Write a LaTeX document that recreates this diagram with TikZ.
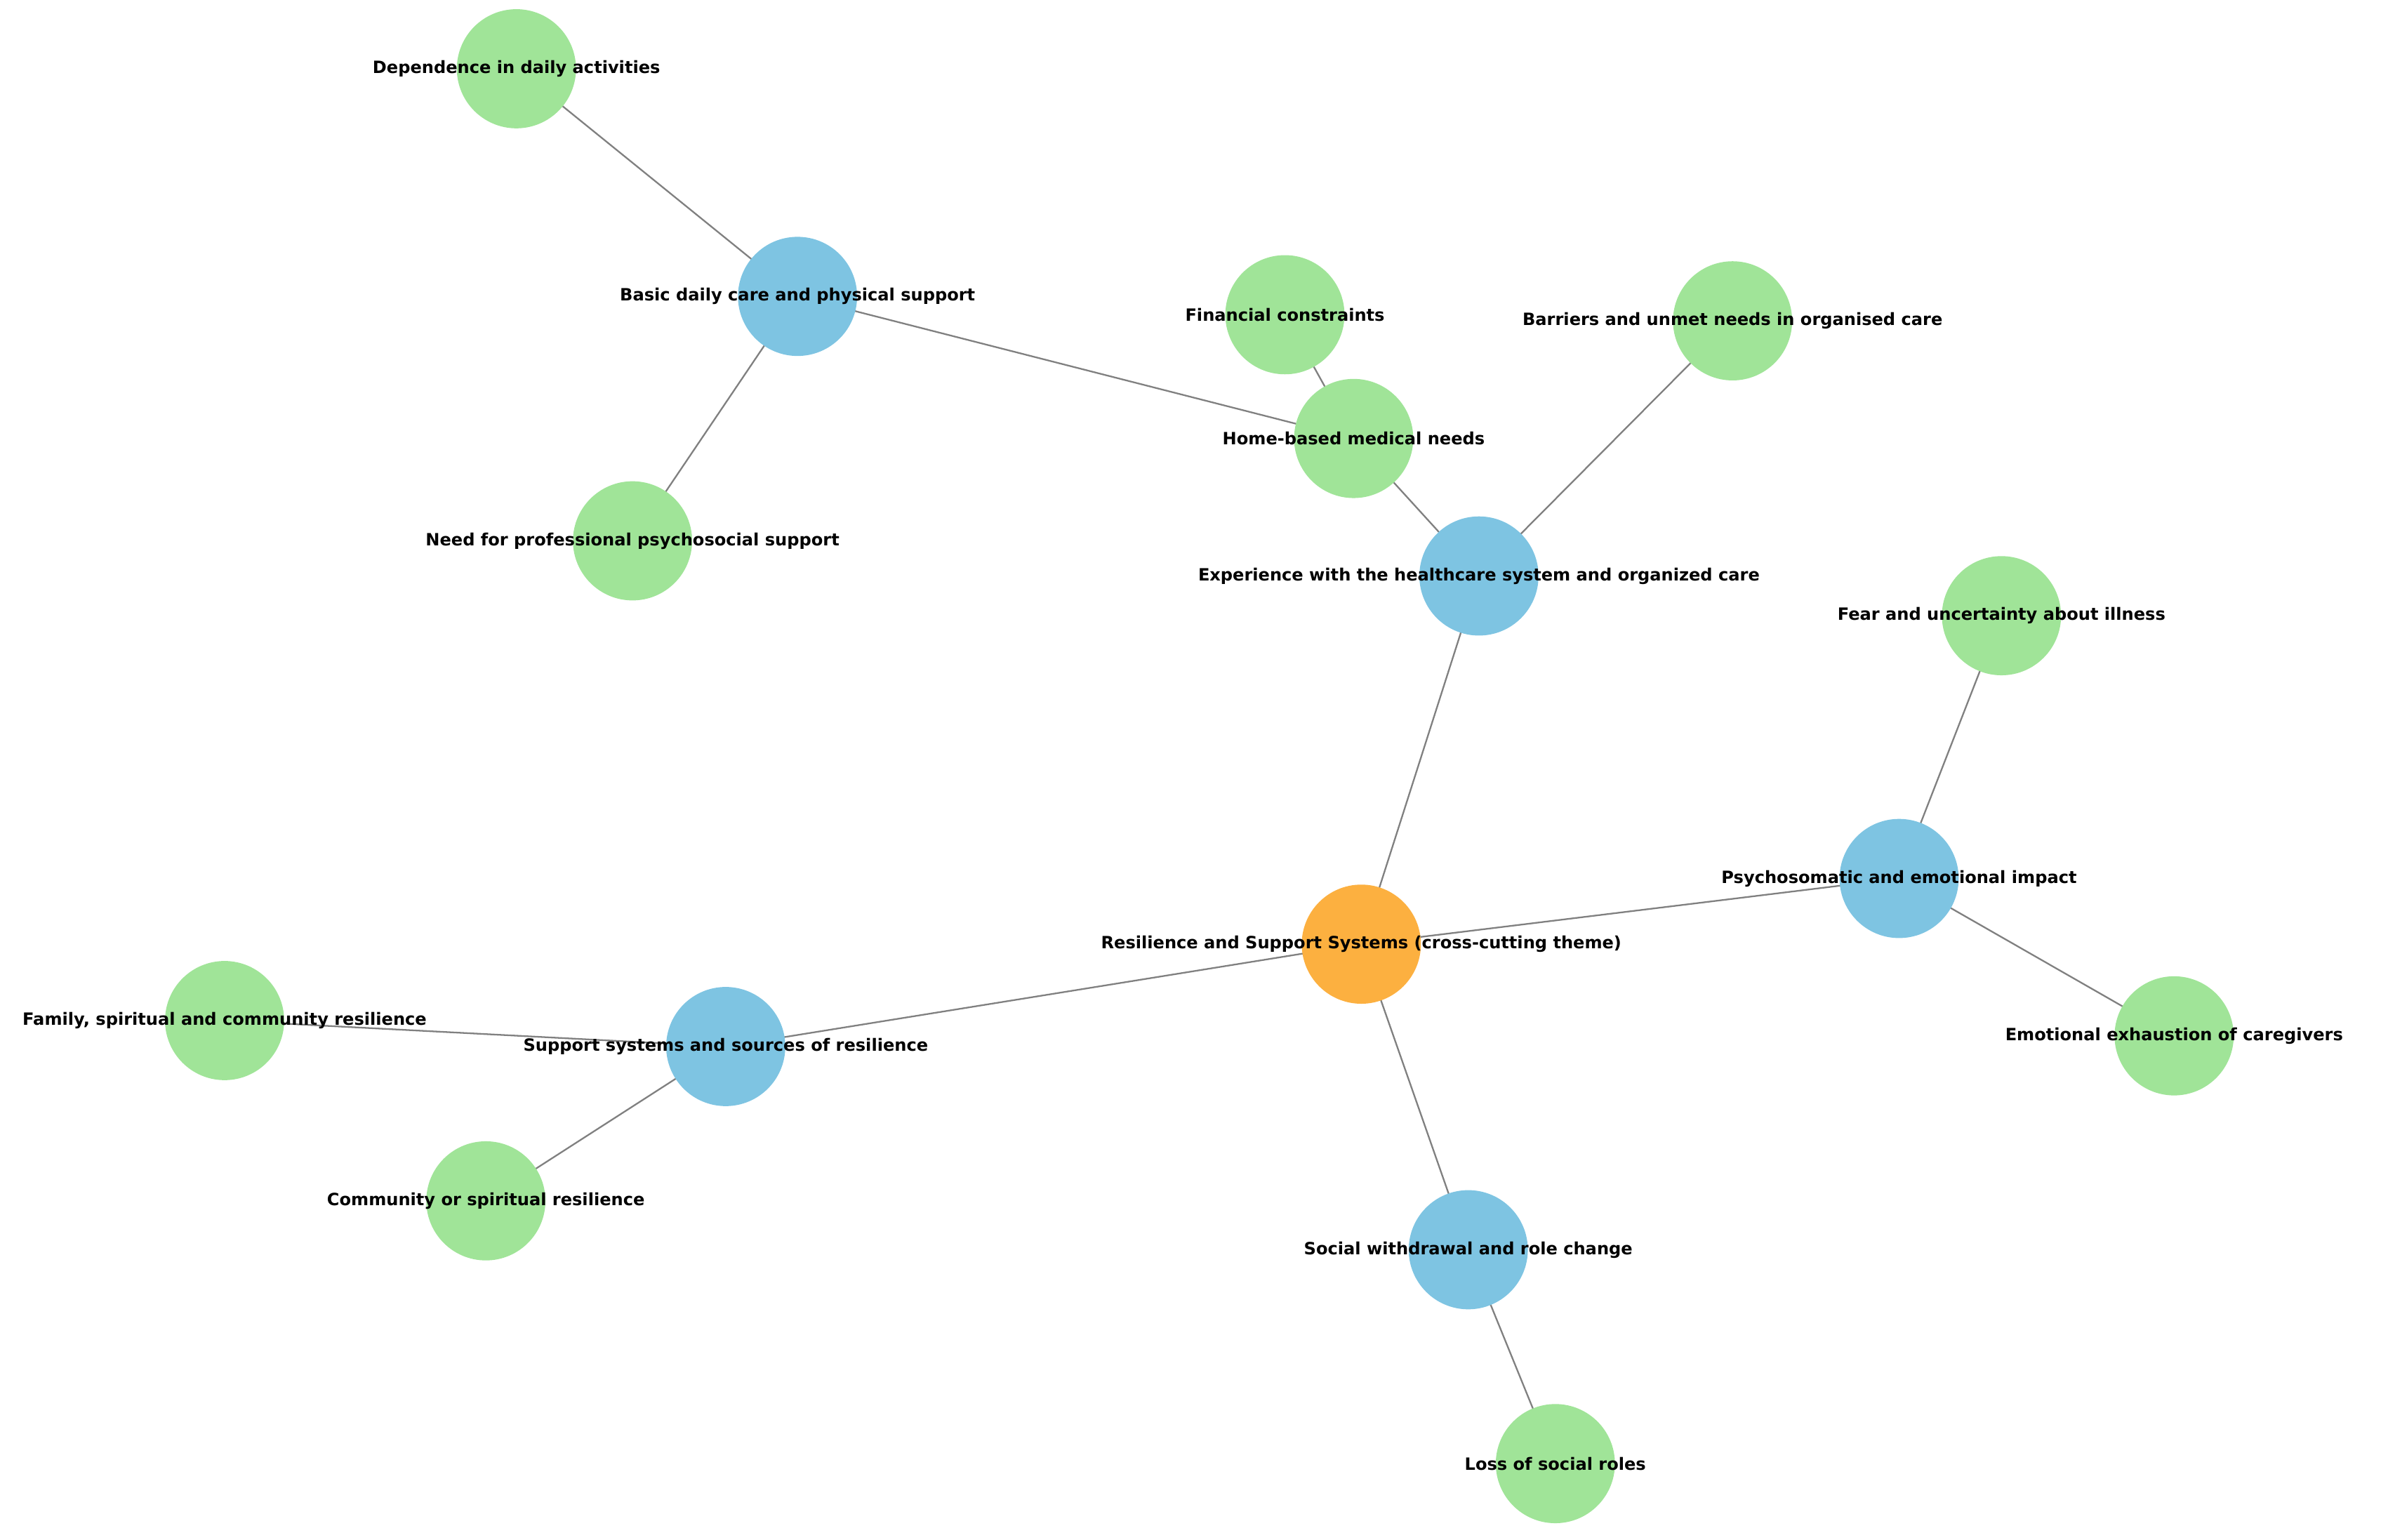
\documentclass[tikz,border=0pt]{standalone}
\usepackage{fontspec}
\setmainfont{DejaVu Sans}
\begin{document}
\begin{tikzpicture}[x=0.02cm,y=-0.02cm,
  c/.style={circle,minimum size=1.56cm,inner sep=0pt},
  g/.style={c,fill=green!40!white!90!black!0,fill={rgb,255:red,160;green,228;blue,152}},
  b/.style={c,fill={rgb,255:red,126;green,196;blue,226}},
  o/.style={c,fill={rgb,255:red,252;green,176;blue,64}},
  e/.style={draw=gray,line width=0.6pt},
  l/.style={font=\bfseries\fontsize{6.3}{7}\selectfont,inner sep=0pt}]
\useasboundingbox (0,0) rectangle (1563,1008);
\clip (0,0) rectangle (1563,1008);
\coordinate (dep) at (338,45);
\coordinate (basic) at (522,194);
\coordinate (fin) at (841,206);
\coordinate (barr) at (1134,210);
\coordinate (home) at (886,287);
\coordinate (need) at (414,354);
\coordinate (exp) at (968,377);
\coordinate (fear) at (1310,403);
\coordinate (psy) at (1243,575);
\coordinate (res) at (891,618);
\coordinate (fam) at (147,668);
\coordinate (sup) at (475,685);
\coordinate (emo) at (1423,678);
\coordinate (com) at (318,786);
\coordinate (soc) at (961,818);
\coordinate (loss) at (1018,958);
\foreach \a/\b in {dep/basic,basic/need,basic/home,fin/home,home/exp,barr/exp,exp/res,fear/psy,psy/res,psy/emo,res/sup,sup/fam,sup/com,res/soc,soc/loss}
  \draw[e] (\a) -- (\b);
\foreach \n in {dep,fin,barr,home,need,fear,fam,emo,com,loss} \node[g] at (\n) {};
\foreach \n in {basic,exp,psy,sup,soc} \node[b] at (\n) {};
\node[o] at (res) {};
\node[l] (tdep) at (dep) {Dependence in daily activities};
\node[l] (tbasic) at (basic) {Basic daily care and physical support};
\node[l] (tfin) at (fin) {Financial constraints};
\node[l] (tbarr) at (barr) {Barriers and unmet needs in organised care};
\node[l] (thome) at (home) {Home-based medical needs};
\node[l] (tneed) at (need) {Need for professional psychosocial support};
\node[l] (texp) at (exp) {Experience with the healthcare system and organized care};
\node[l] (tfear) at (fear) {Fear and uncertainty about illness};
\node[l] (tpsy) at (psy) {Psychosomatic and emotional impact};
\node[l] (tres) at (res) {Resilience and Support Systems (cross-cutting theme)};
\node[l] (tfam) at (fam) {Family, spiritual and community resilience};
\node[l] (tsup) at (sup) {Support systems and sources of resilience};
\node[l] (temo) at (emo) {Emotional exhaustion of caregivers};
\node[l] (tcom) at (com) {Community or spiritual resilience};
\node[l] (tsoc) at (soc) {Social withdrawal and role change};
\node[l] (tloss) at (loss) {Loss of social roles};
\end{tikzpicture}
\end{document}
